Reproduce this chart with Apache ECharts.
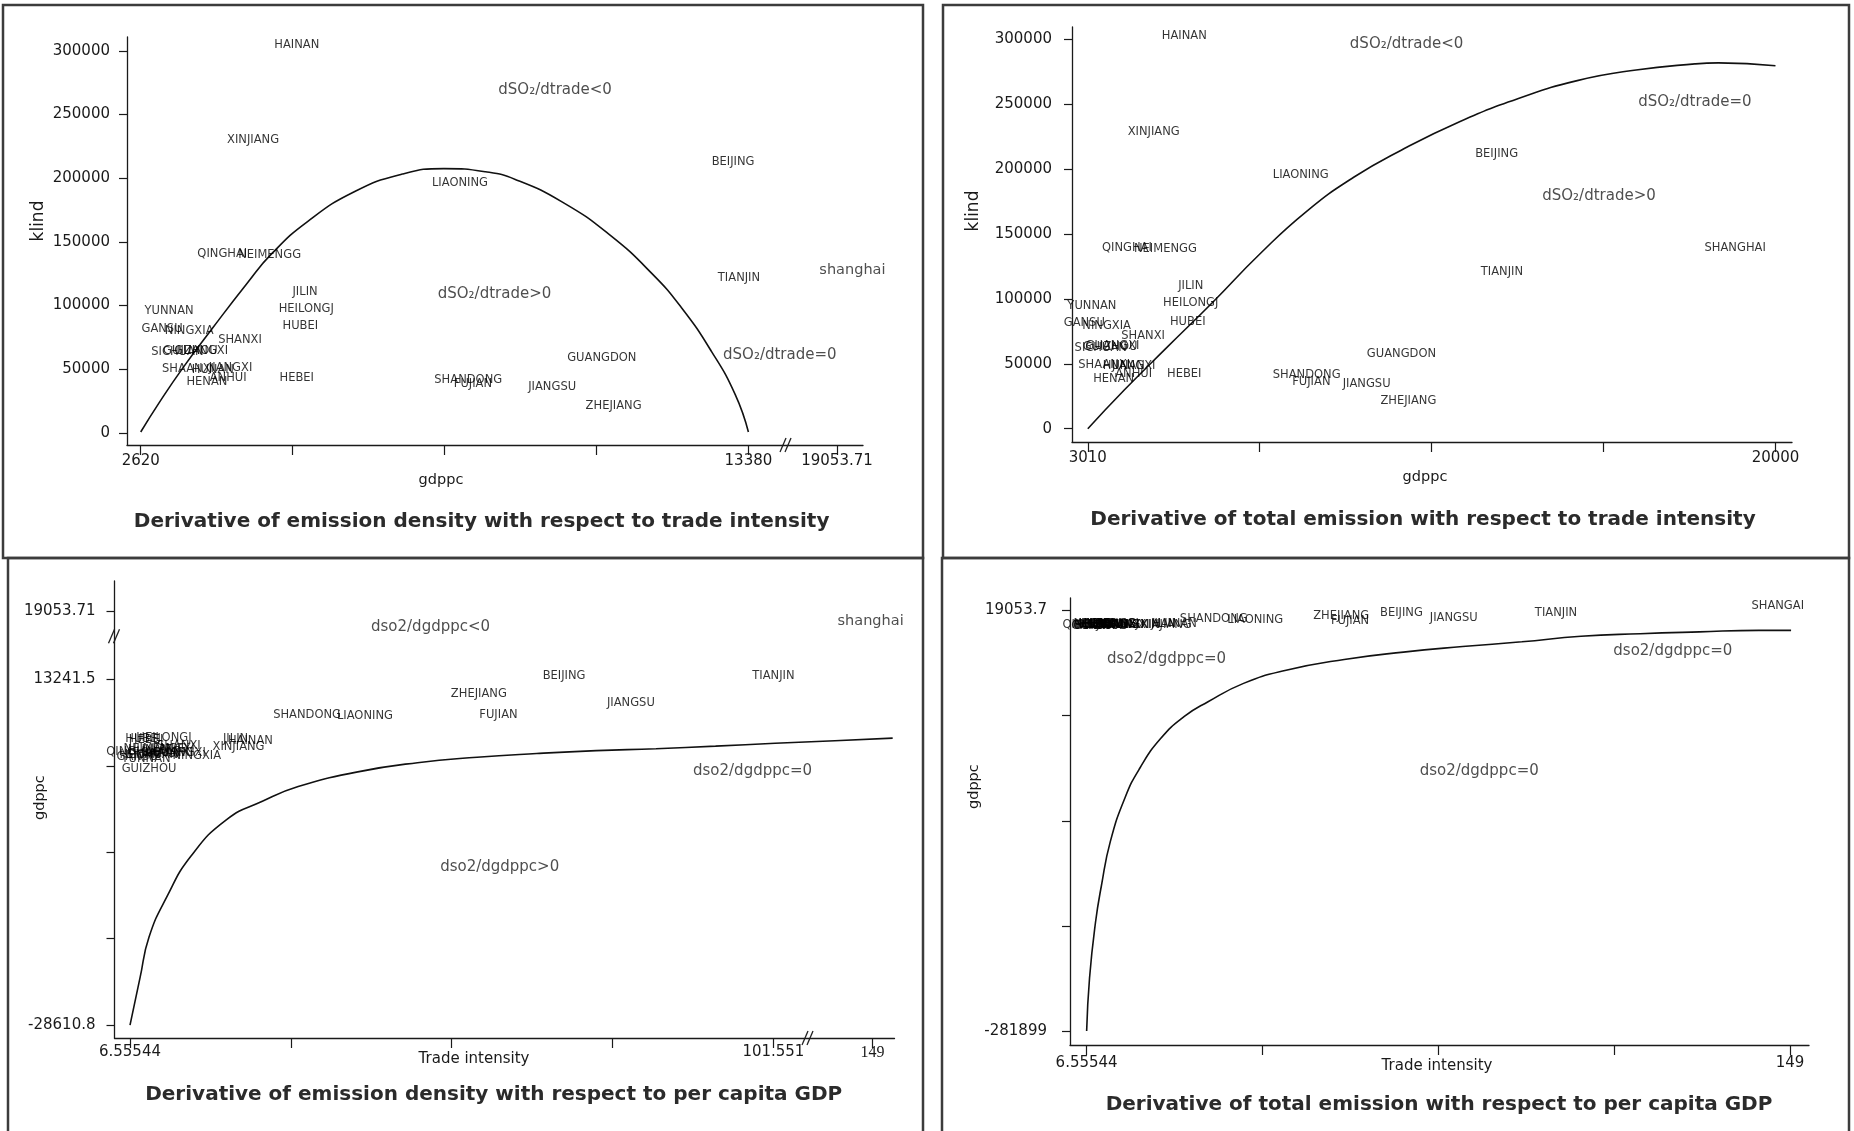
<!DOCTYPE html>
<html>
<head>
<meta charset="utf-8">
<script src="https://cdn.jsdelivr.net/npm/echarts@6/dist/echarts.min.js"></script>
<style>
html,body{margin:0;padding:0;background:#fff;}
#c{width:1854px;height:1131px;}
</style>
</head>
<body>
<div id="c"></div>
<script>
// ---------------- DATA ----------------
// Panel 1: emission density vs trade intensity (x = gdppc, y = klind); axis is broken after 13380
const p1Names = ['HAINAN','XINJIANG','BEIJING','LIAONING','QINGHAI','NEIMENGG','TIANJIN','JILIN','HEILONGJ','YUNNAN','HUBEI','GANSU','NINGXIA','SHANXI','SICHUAN','GUIZHOU','GUANGXI','SHAANXI','HUNAN','JIANGXI','HENAN','ANHUI','HEBEI','SHANDONG','FUJIAN','GUANGDON','JIANGSU','ZHEJIANG','shanghai'];
const p1Gdppc = [5383,4609,13108,8272,4064,4902,13213,5530,5551,3122,5446,2997,3478,4378,3269,3500,3690,3457,3897,4211,3792,4169,5383,8419,8502,10784,9905,10993,15222];
const p1Klind = [304600,230300,212700,196000,140300,139300,121700,110500,97500,95700,83600,81700,79900,72500,63200,64000,64100,50200,49200,51100,39900,42700,42700,41800,38100,58500,36200,21400,127300];
const p1CurveX = [2620,2936,3357,3883,4515,4936,5568,6410,7252,7989,8725,9252,10094,10936,11673,12199,12725,13147,13380];
const p1CurveY = [600,22900,50400,81700,118100,140500,165700,189500,203200,207500,205000,199000,181000,155000,125000,98000,64000,30000,600];
const p1Notes = ['dSO₂/dtrade<0','dSO₂/dtrade>0','dSO₂/dtrade=0'];
const p1NoteX = [9957,8884,13936];
const p1NoteY = [269300,109200,61300];
const p1XTicks = [2620,5310,8000,10690,13380,14949];
const p1XTickLabels = ['2620','','','','13380','19053.71'];
const p1YTicks = [0,50000,100000,150000,200000,250000,300000];
const p1YTickLabels = ['0','50000','100000','150000','200000','250000','300000'];
const p1XBreak = 14046;

// Panel 2: total emission vs trade intensity
const p2Names = ['HAINAN','XINJIANG','BEIJING','LIAONING','QINGHAI','NEIMENGG','SHANGHAI','TIANJIN','JILIN','HEILONGJ','YUNNAN','HUBEI','GANSU','NINGXIA','SHANXI','GUANGDON','SICHUAN','GUIZHOU','GUANGXI','SHAANXI','HUNAN','JIANGXI','HENAN','ANHUI','HEBEI','SHANDONG','FUJIAN','JIANGSU','ZHEJIANG'];
const p2Gdppc = [5393,4638,13111,8271,3977,4928,19004,13242,5553,5553,3112,5480,2923,3475,4376,10759,3330,3560,3620,3417,3900,4144,3649,4144,5393,8417,8533,9899,10931];
const p2Klind = [302700,228800,211700,195200,139500,138700,139500,120800,109700,96800,94600,82200,81600,79400,71100,57400,62300,63000,63400,49100,48000,48500,38600,41900,42200,41400,35800,34700,21000];
const p2CurveX = [3010,3911,4928,6091,7254,8417,9579,10742,12195,13649,15102,16556,18009,18590,20000];
const p2CurveY = [0,29800,61500,97300,134500,167600,193800,214500,236600,254500,268300,276500,281200,282000,279800];
const p2Notes = ['dSO₂/dtrade<0','dSO₂/dtrade=0','dSO₂/dtrade>0'];
const p2NoteX = [10887,18009,15640];
const p2NoteY = [296700,251700,179200];
const p2XTicks = [3010,7257.5,11505,15752.5,20000];
const p2XTickLabels = ['3010','','','','20000'];
const p2YTicks = [0,50000,100000,150000,200000,250000,300000];
const p2YTickLabels = ['0','50000','100000','150000','200000','250000','300000'];

// Panel 3: emission density vs per capita GDP (x = trade intensity, y = gdppc); both axes broken
const p3Names = ['BEIJING','TIANJIN','ZHEJIANG','JIANGSU','SHANDONG','LIAONING','FUJIAN','shanghai','HUBEI','HEILONGJ','HEBEI','JILIN','HAINAN','XINJIANG','SHANXI','NINGXIA','GUIZHOU','QINGHAI','HENAN','YUNNAN','GANSU','SICHUAN','NEIMENGG','SHAANXI','ANHUI','HUNAN','JIANGXI','GUANGXI'];
const p3Trade = [70.65,101.55,58.06,80.51,32.70,41.24,60.96,115.9,8.49,11.57,8.93,22.14,24.34,22.58,13.77,16.42,9.37,6.73,8.05,8.93,7.61,9.81,10.25,12.01,11.13,9.37,12.89,13.77];
const p3Gdppc = [13600,13690,11460,10350,8890,8800,8890,20260,6040,6180,5910,6040,5820,5070,5160,3910,2400,4490,4040,3600,3820,4040,4800,4360,4270,4710,4800,4360];
const p3CurveX = [6.56,8.05,9.37,12.01,15.54,20.82,26.10,31.39,40.19,49.00,57.80,66.60,75.40,84.21,93.01,101.81,110.62,119.16];
const p3CurveY = [-28610,-22840,-17950,-13060,-8170,-3730,-1510,270,2050,3160,3820,4270,4620,4850,5160,5510,5820,6130];
const p3Notes = ['dso2/dgdppc<0','dso2/dgdppc>0','dso2/dgdppc=0'];
const p3NoteX = [50.93,61.14,98.47];
const p3NoteY = [19600,-9510,2180];
const p3XTicks = [6.55544,30.30433,54.05322,77.80211,101.551,116.17];
const p3XTickLabels = ['6.55544','','','','101.551','149'];
const p3YTicks = [-28610.8,-18147.7,-7684.7,2778.4,13241.5,21515];
const p3YTickLabels = ['-28610.8','','','','13241.5','19053.71'];
const p3XBreak = 106.66;
const p3YBreak = 18470;

// Panel 4: total emission vs per capita GDP
const p4Names = ['SHANGAI','TIANJIN','JIANGSU','BEIJING','ZHEJIANG','FUJIAN','LIAONING','SHANDONG','HUBEI','HEILONGJ','HEBEI','JILIN','HAINAN','XINJIANG','SHANXI','NINGXIA','GUIZHOU','QINGHAI','HENAN','YUNNAN','GANSU','SICHUAN','NEIMENGG','SHAANXI','ANHUI','HUNAN','JIANGXI','GUANGXI'];
const p4Trade = [146.5,101.6,80.9,70.3,58.1,59.9,40.7,32.3,8.49,11.57,8.93,22.14,24.34,22.58,13.77,16.42,9.37,6.73,8.05,8.93,7.61,9.81,10.25,12.01,11.13,9.37,12.89,13.77];
const p4Gdppc = [22200,16950,13800,17470,14840,11420,12200,13000,9500,9600,9300,9400,9200,8800,8900,8500,8000,8700,8400,8200,8300,8400,9100,8600,8500,8800,9000,8600];
const p4CurveX = [6.56,7.15,8.35,9.55,11.35,14.35,17.35,21.54,26.34,31.14,38.33,46.72,58.71,70.70,82.69,94.68,106.67,118.66,130.65,142.64,149.2];
const p4CurveY = [-281900,-243700,-204200,-177900,-146300,-114700,-93640,-72570,-56770,-46250,-33080,-23870,-15970,-10700,-6750,-3330,620,2470,3780,4840,4840];
const p4Notes = ['dso2/dgdppc=0','dso2/dgdppc=0','dso2/dgdppc=0'];
const p4NoteX = [22.74,125.26,86.05];
const p4NoteY = [-15440,-9910,-95750];
const p4XTicks = [6.55544,42.16658,77.77772,113.38886,149];
const p4XTickLabels = ['6.55544','','','','149'];
const p4YTicks = [-281899,-206660.8,-131422.7,-56184.5,19053.7];
const p4YTickLabels = ['-281899','','','','19053.7'];

const titles = [
  'Derivative of emission density with respect to trade intensity',
  'Derivative of total emission with respect to trade intensity',
  'Derivative of emission density with respect to per capita GDP',
  'Derivative of total emission with respect to per capita GDP'
];
const xNames = ['gdppc','gdppc','Trade intensity','Trade intensity'];
const yNames = ['klind','klind','gdppc','gdppc'];

// ---------------- LAYOUT / STYLE ----------------
const FONT = '"DejaVu Sans", "Liberation Sans", Arial, sans-serif';
const INK = '#000';
const AXIS = '#1a1a1a';

const panels = [
  {grid:{left:127,top:37,width:736,height:408}, xMin:2377,xMax:15409,yMin:-9581,yMax:310837,
   xT:p1XTicks,xL:p1XTickLabels,yT:p1YTicks,yL:p1YTickLabels,xM:9,yM:17,
   names:p1Names,xs:p1Gdppc,ys:p1Klind,cx:p1CurveX,cy:p1CurveY,nt:p1Notes,nx:p1NoteX,ny:p1NoteY},
  {grid:{left:1072,top:27,width:720,height:415}, xMin:2620,xMax:20408,yMin:-10257,yMax:309640,
   xT:p2XTicks,xL:p2XTickLabels,yT:p2YTicks,yL:p2YTickLabels,xM:9,yM:20,
   names:p2Names,xs:p2Gdppc,ys:p2Klind,cx:p2CurveX,cy:p2CurveY,nt:p2Notes,nx:p2NoteX,ny:p2NoteY},
  {grid:{left:114.5,top:581,width:780,height:457}, xMin:4.27,xMax:119.43,yMin:-30171,yMax:25156,
   xT:p3XTicks,xL:p3XTickLabels,yT:p3YTicks,yL:p3YTickLabels,xM:7,yM:19,
   names:p3Names,xs:p3Trade,ys:p3Gdppc,cx:p3CurveX,cy:p3CurveY,nt:p3Notes,nx:p3NoteX,ny:p3NoteY},
  {grid:{left:1070,top:598,width:739,height:447}, xMin:3.19,xMax:152.83,yMin:-291854,yMax:28006,
   xT:p4XTicks,xL:p4XTickLabels,yT:p4YTicks,yL:p4YTickLabels,xM:11,yM:23,
   names:p4Names,xs:p4Trade,ys:p4Gdppc,cx:p4CurveX,cy:p4CurveY,nt:p4Notes,nx:p4NoteX,ny:p4NoteY}
];

const titlePos = [[481.6,521.8],[1423,520],[493.7,1095],[1439,1104.6]];
const xNamePos = [[441,480],[1425,477],[474,1058.7],[1437,1066]];
const yNamePos = [[38.6,221],[974,211],[40.5,797.6],[974,786.6]];
const yNameSize = [17,17,14.5,14.5];
const xNameSize = [14.5,14.5,15,15];

function formatterFor(ticks, labels, serifIdx) {
  return function (v) {
    for (let i = 0; i < ticks.length; i++) {
      if (Math.abs(ticks[i] - v) <= 1e-6 * Math.max(1, Math.abs(v))) {
        if (labels[i] && serifIdx && labels[i] === '149') return '{serif|' + labels[i] + '}';
        return labels[i];
      }
    }
    return '';
  };
}
function labeled(ticks, labels) { return ticks.filter((t, i) => labels[i] !== ''); }

const grids = [], xAxes = [], yAxes = [], series = [];
panels.forEach((p, i) => {
  grids.push(Object.assign({outerBoundsMode:'none', containLabel:false}, p.grid));
  xAxes.push({
    type:'value', gridIndex:i, min:p.xMin, max:p.xMax,
    axisLine:{show:true, onZero:false, lineStyle:{color:AXIS, width:1.3}},
    axisTick:{show:true, customValues:p.xT, length:10, lineStyle:{color:AXIS, width:1.2}},
    axisLabel:{show:true, customValues:labeled(p.xT, p.xL), formatter:formatterFor(p.xT, p.xL, i === 2),
      margin:p.xM, fontFamily:FONT, fontSize:15, color:AXIS,
      rich:{serif:{fontFamily:'"Liberation Serif", "DejaVu Serif", serif', fontSize:16, color:AXIS}}},
    splitLine:{show:false}
  });
  yAxes.push({
    type:'value', gridIndex:i, min:p.yMin, max:p.yMax,
    axisLine:{show:true, onZero:false, lineStyle:{color:AXIS, width:1.3}},
    axisTick:{show:true, customValues:p.yT, length:8, lineStyle:{color:AXIS, width:1.2}},
    axisLabel:{show:true, customValues:labeled(p.yT, p.yL), formatter:formatterFor(p.yT, p.yL, false),
      margin:p.yM, fontFamily:FONT, fontSize:15, color:AXIS},
    splitLine:{show:false}
  });
  series.push({
    type:'line', xAxisIndex:i, yAxisIndex:i, silent:true,
    data:p.cx.map((x, k) => [x, p.cy[k]]),
    symbol:'none', smooth:0.5,
    lineStyle:{color:'#111', width:1.6}, z:3
  });
  series.push({
    type:'scatter', xAxisIndex:i, yAxisIndex:i, silent:true,
    symbol:'circle', symbolSize:0,
    data:p.names.map((n, k) => {
      const item = {name:n, value:[p.xs[k], p.ys[k]]};
      if (n === n.toLowerCase()) item.label = {fontSize:14.5, color:'#222'};
      return item;
    }),
    label:{show:true, position:'inside', formatter:'{b}', fontFamily:FONT, fontSize:11.5, color:INK},
    labelLayout:{hideOverlap:false}, z:4
  });
  series.push({
    type:'scatter', xAxisIndex:i, yAxisIndex:i, silent:true,
    symbol:'circle', symbolSize:0,
    data:p.nt.map((n, k) => ({name:n, value:[p.nx[k], p.ny[k]]})),
    label:{show:true, position:'inside', formatter:'{b}', fontFamily:FONT, fontSize:15, color:'#222'},
    z:4
  });
});

function baseGraphics() {
  const g = [];
  const frame = {fill:'none', stroke:'#3c3c3c', lineWidth:2.5};
  g.push({type:'rect', shape:{x:3, y:5, width:920, height:553}, style:frame, silent:true});
  g.push({type:'rect', shape:{x:943, y:5, width:906, height:553}, style:frame, silent:true});
  g.push({type:'rect', shape:{x:8, y:558, width:915, height:600}, style:frame, silent:true});
  g.push({type:'rect', shape:{x:942, y:558, width:907, height:600}, style:frame, silent:true});
  for (let i = 0; i < 4; i++) {
    g.push({type:'text', x:titlePos[i][0], y:titlePos[i][1], silent:true,
      style:{text:titles[i], align:'center', verticalAlign:'middle', fontFamily:FONT, fontWeight:'bold', fontSize:20, fill:'#2b2b2b'}});
    g.push({type:'text', x:xNamePos[i][0], y:xNamePos[i][1], silent:true,
      style:{text:xNames[i], align:'center', verticalAlign:'middle', fontFamily:FONT, fontSize:xNameSize[i], fill:'#1a1a1a'}});
    g.push({type:'text', x:yNamePos[i][0], y:yNamePos[i][1], rotation:Math.PI / 2, silent:true,
      style:{text:yNames[i], align:'center', verticalAlign:'middle', fontFamily:FONT, fontSize:yNameSize[i], fill:'#1a1a1a'}});
  }
  return g;
}

const chart = echarts.init(document.getElementById('c'), null, {renderer:'canvas'});
chart.setOption({
  animation:false,
  backgroundColor:'#ffffff',
  grid:grids, xAxis:xAxes, yAxis:yAxes, series:series,
  graphic:baseGraphics()
});

// axis-break marks ("//")
function slashes(cx, cy) {
  const s = {stroke:'#222', lineWidth:1.3};
  return [
    {type:'line', silent:true, shape:{x1:cx - 6, y1:cy + 7, x2:cx, y2:cy - 7}, style:s},
    {type:'line', silent:true, shape:{x1:cx - 1, y1:cy + 7, x2:cx + 5, y2:cy - 7}, style:s}
  ];
}
const gfx = baseGraphics();
const b1 = chart.convertToPixel({gridIndex:0}, [p1XBreak, panels[0].yMin]);
const b3x = chart.convertToPixel({gridIndex:2}, [p3XBreak, panels[2].yMin]);
const b3y = chart.convertToPixel({gridIndex:2}, [panels[2].xMin, p3YBreak]);
[b1, b3x, b3y].forEach(pt => { if (pt) gfx.push(...slashes(pt[0], pt[1])); });
chart.setOption({graphic:gfx});
</script>
</body>
</html>
